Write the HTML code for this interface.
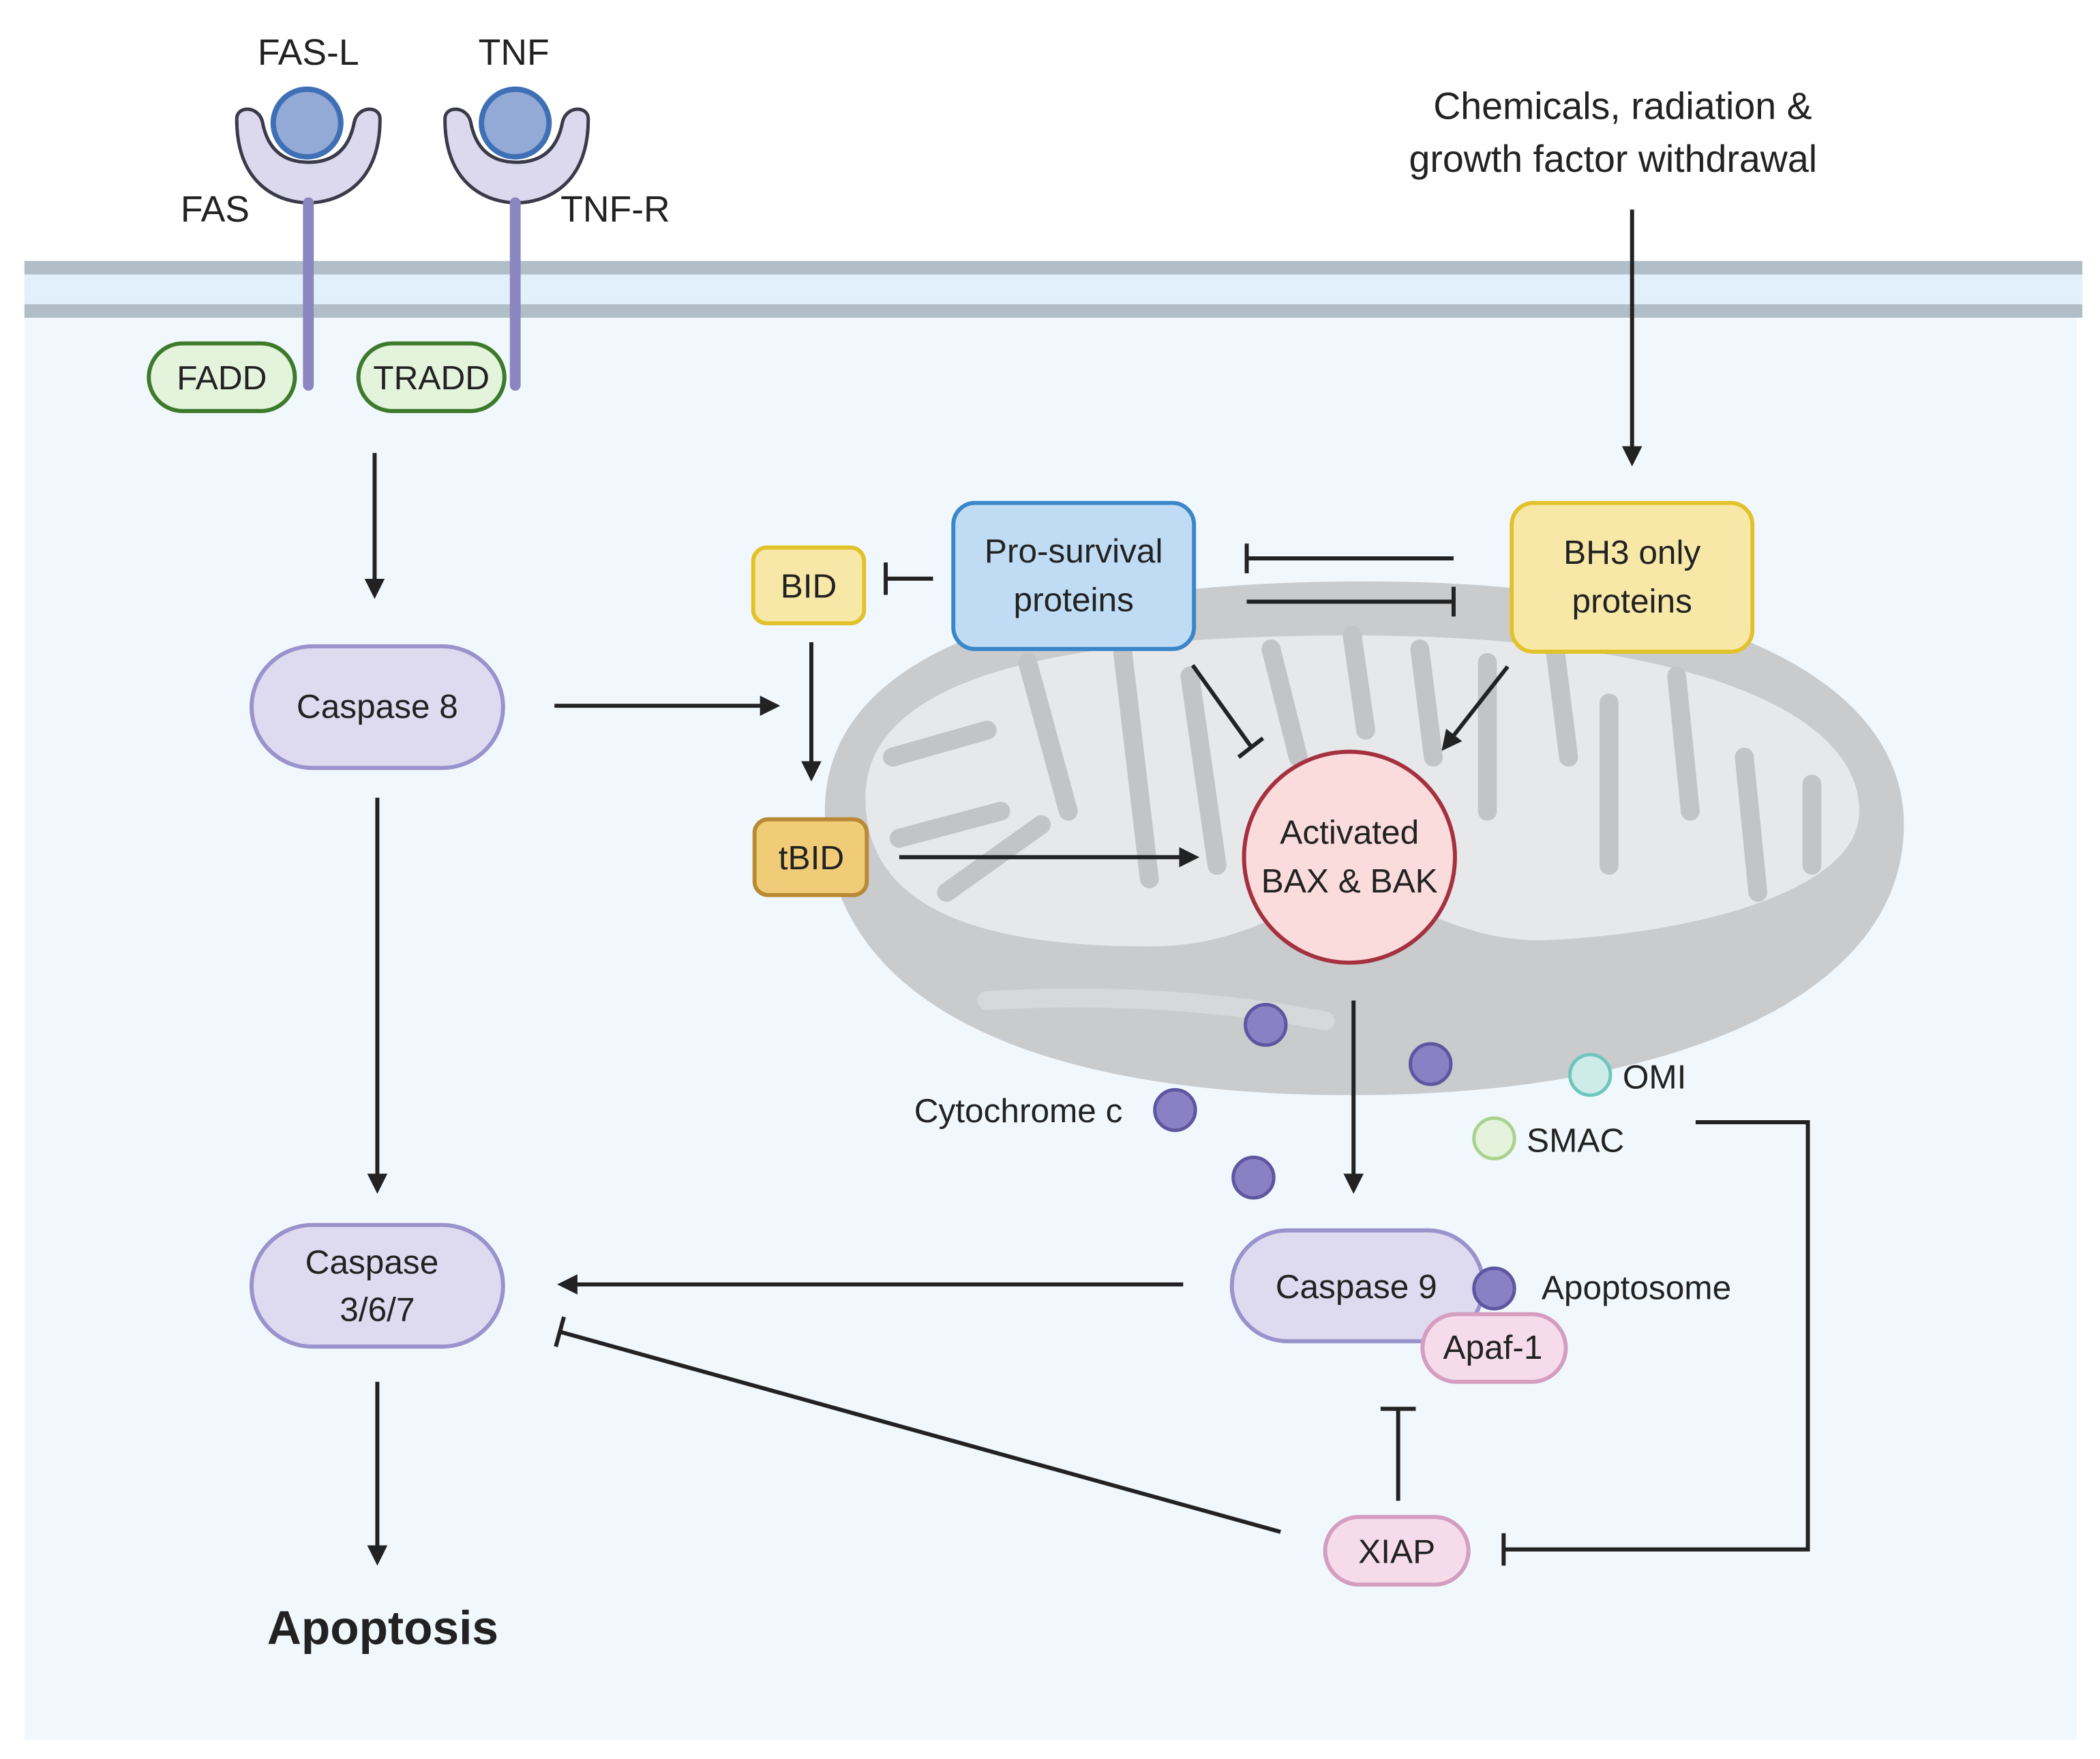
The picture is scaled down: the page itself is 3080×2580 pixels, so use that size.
<!DOCTYPE html>
<html><head><meta charset="utf-8"><style>
html,body{margin:0;padding:0;background:#fff}
svg{display:block}
text{font-family:"Liberation Sans",sans-serif;fill:#222}
</style></head><body>
<svg width="3080" height="2580" viewBox="0 0 1553 1301" xmlns="http://www.w3.org/2000/svg">
<defs>
<marker id="ah" viewBox="0 0 10 10" refX="8" refY="5" markerWidth="5" markerHeight="5" orient="auto"><path d="M0,0 L10,5 L0,10 z" fill="#222"/></marker>
</defs>
<rect width="1553" height="1301" fill="#fff"/>
<rect x="18" y="195" width="1518" height="1092" fill="#f1f8fd"/>
<rect x="18" y="193" width="1522" height="10" fill="#b1bec8"/>
<rect x="18" y="203" width="1522" height="22" fill="#e2f0fc"/>
<rect x="18" y="225" width="1522" height="10" fill="#b1bec8"/>

<!-- mitochondrion -->
<g>
<path d="M610,600 C610,470 800,430 1010,430 C1260,430 1408,500 1408,610 C1408,740 1230,810 1000,810 C760,810 610,740 610,600 Z" fill="#c9cbcd"/>
<path d="M640,590 C640,490 820,470 1000,470 C1230,470 1375,520 1375,600 C1375,660 1250,690 1150,695 C1080,700 1040,660 1000,660 C960,660 930,700 850,700 C720,700 640,670 640,590 Z" fill="#e6e8ea"/>
<g stroke="#c2c4c6" stroke-width="14" stroke-linecap="round" fill="none">
<path d="M660,560 L730,540"/><path d="M665,620 L740,600"/><path d="M700,660 L770,610"/>
<path d="M760,490 L790,600"/><path d="M830,480 L850,650"/><path d="M880,500 L900,640"/>
<path d="M940,480 L960,560"/><path d="M1000,470 L1010,540"/><path d="M1050,480 L1060,560"/>
<path d="M1100,490 L1100,600"/><path d="M1150,480 L1160,560"/><path d="M1190,520 L1190,640"/>
<path d="M1240,500 L1250,600"/><path d="M1290,560 L1300,660"/><path d="M1340,580 L1340,640"/>
</g>
<path d="M730,740 C820,735 900,740 980,755" stroke="#d6d8da" stroke-width="14" stroke-linecap="round" fill="none"/>
</g>

<!-- receptors -->
<g>
<path d="M175,88 C175,140 210,150 228,150 C246,150 281,140 281,88 C281,78 265,78 262,90 C258,112 245,120 228,120 C211,120 198,112 194,90 C191,78 175,78 175,88 Z" fill="#dcd8ed" stroke="#3a3a4a" stroke-width="2.5"/>
<path d="M329,88 C329,140 364,150 382,150 C400,150 435,140 435,88 C435,78 419,78 416,90 C412,112 399,120 382,120 C365,120 352,112 348,90 C345,78 329,78 329,88 Z" fill="#dcd8ed" stroke="#3a3a4a" stroke-width="2.5"/>
<line x1="228" y1="150" x2="228" y2="285" stroke="#8c86c0" stroke-width="8" stroke-linecap="round"/>
<line x1="381" y1="150" x2="381" y2="285" stroke="#8c86c0" stroke-width="8" stroke-linecap="round"/>
<circle cx="227" cy="91" r="25" fill="#93a9d6" stroke="#3f6fb5" stroke-width="4"/>
<circle cx="381" cy="91" r="25" fill="#93a9d6" stroke="#3f6fb5" stroke-width="4"/>
<text x="228" y="48" font-size="27" text-anchor="middle">FAS-L</text>
<text x="380" y="48" font-size="27" text-anchor="middle">TNF</text>
<text x="159" y="164" font-size="27" text-anchor="middle">FAS</text>
<text x="455" y="164" font-size="27" text-anchor="middle">TNF-R</text>
<rect x="110" y="254" width="108" height="50" rx="25" fill="#e3f3dc" stroke="#3d7a2b" stroke-width="3"/>
<text x="164" y="288" font-size="25" text-anchor="middle">FADD</text>
<rect x="265" y="254" width="108" height="50" rx="25" fill="#e3f3dc" stroke="#3d7a2b" stroke-width="3"/>
<text x="319" y="288" font-size="25" text-anchor="middle">TRADD</text>
</g>

<!-- arrows -->
<g stroke="#222" stroke-width="3" fill="none">
<line x1="277" y1="335" x2="277" y2="440" marker-end="url(#ah)"/>
<line x1="410" y1="522" x2="574" y2="522" marker-end="url(#ah)"/>
<line x1="279" y1="590" x2="279" y2="880" marker-end="url(#ah)"/>
<line x1="279" y1="1022" x2="279" y2="1155" marker-end="url(#ah)"/>
<line x1="600" y1="475" x2="600" y2="575" marker-end="url(#ah)"/>
<line x1="665" y1="634" x2="884" y2="634" marker-end="url(#ah)"/>
<line x1="1207" y1="155" x2="1207" y2="342" marker-end="url(#ah)"/>
<line x1="1115" y1="493" x2="1068" y2="553" marker-end="url(#ah)"/>
<line x1="1001" y1="740" x2="1001" y2="880" marker-end="url(#ah)"/>
<line x1="875" y1="950" x2="415" y2="950" marker-end="url(#ah)"/>
<!-- inhibitions -->
<line x1="690" y1="428" x2="655" y2="428"/><line x1="655" y1="416" x2="655" y2="440"/>
<line x1="1075" y1="413" x2="922" y2="413"/><line x1="922" y1="402" x2="922" y2="424"/>
<line x1="922" y1="445" x2="1075" y2="445"/><line x1="1075" y1="434" x2="1075" y2="456"/>
<line x1="882" y1="492" x2="925" y2="552"/><line x1="916" y1="560" x2="934" y2="546"/>
<line x1="1034" y1="1110" x2="1034" y2="1042"/><line x1="1021" y1="1042" x2="1047" y2="1042"/>
<line x1="947" y1="1133" x2="414" y2="985"/><line x1="411" y1="996" x2="417" y2="974"/>
<polyline points="1254,830 1337,830 1337,1146 1112,1146"/><line x1="1112" y1="1134" x2="1112" y2="1158"/>
</g>

<!-- nodes -->
<rect x="186" y="478" width="186" height="90" rx="45" fill="#dedaf0" stroke="#9a92cc" stroke-width="3"/>
<text x="279" y="531" font-size="25" text-anchor="middle">Caspase 8</text>
<rect x="186" y="906" width="186" height="90" rx="45" fill="#dedaf0" stroke="#9a92cc" stroke-width="3"/>
<text x="275" y="942" font-size="25" text-anchor="middle">Caspase</text>
<text x="279" y="977" font-size="25" text-anchor="middle">3/6/7</text>
<text x="283" y="1216" font-size="35" font-weight="bold" text-anchor="middle">Apoptosis</text>

<rect x="557" y="405" width="82" height="56" rx="10" fill="#f8e8a8" stroke="#e2c22a" stroke-width="3"/>
<text x="598" y="442" font-size="25" text-anchor="middle">BID</text>
<rect x="558" y="606" width="83" height="56" rx="10" fill="#f1cc78" stroke="#b98a36" stroke-width="3"/>
<text x="600" y="643" font-size="25" text-anchor="middle">tBID</text>

<rect x="705" y="372" width="178" height="108" rx="16" fill="#bfdcf4" stroke="#3b86c8" stroke-width="3"/>
<text x="794" y="416" font-size="25" text-anchor="middle">Pro-survival</text>
<text x="794" y="452" font-size="25" text-anchor="middle">proteins</text>
<rect x="1118" y="372" width="178" height="110" rx="16" fill="#f8e8a8" stroke="#e2c22a" stroke-width="3"/>
<text x="1207" y="417" font-size="25" text-anchor="middle">BH3 only</text>
<text x="1207" y="453" font-size="25" text-anchor="middle">proteins</text>

<circle cx="998" cy="634" r="78" fill="#fadcdc" stroke="#a53040" stroke-width="3"/>
<text x="998" y="624" font-size="25" text-anchor="middle">Activated</text>
<text x="998" y="660" font-size="25" text-anchor="middle">BAX &amp; BAK</text>

<text x="1060" y="88" font-size="28">Chemicals, radiation &amp;</text>
<text x="1042" y="127" font-size="28">growth factor withdrawal</text>

<g fill="#8a80c4" stroke="#5e56a0" stroke-width="2.5">
<circle cx="936" cy="758" r="15"/><circle cx="1058" cy="787" r="15"/>
<circle cx="869" cy="821" r="15"/><circle cx="927" cy="871" r="15"/>
</g>
<circle cx="1176" cy="795" r="15" fill="#cdebe8" stroke="#6dc6bd" stroke-width="2.5"/>
<circle cx="1105" cy="842" r="15" fill="#e6f3dc" stroke="#a9d38f" stroke-width="2.5"/>
<text x="676" y="830" font-size="25">Cytochrome c</text>
<text x="1200" y="805" font-size="25">OMI</text>
<text x="1129" y="852" font-size="25">SMAC</text>

<rect x="911" y="910" width="186" height="82" rx="41" fill="#dedaf0" stroke="#9a92cc" stroke-width="3"/>
<text x="1003" y="960" font-size="25" text-anchor="middle">Caspase 9</text>
<rect x="1052" y="972" width="106" height="50" rx="25" fill="#f6dcea" stroke="#d39ec0" stroke-width="3"/>
<text x="1104" y="1005" font-size="25" text-anchor="middle">Apaf-1</text>
<circle cx="1105" cy="953" r="15" fill="#8a80c4" stroke="#5e56a0" stroke-width="2.5"/>
<text x="1140" y="961" font-size="25">Apoptosome</text>

<rect x="980" y="1122" width="106" height="50" rx="25" fill="#f6dcea" stroke="#d39ec0" stroke-width="3"/>
<text x="1033" y="1156" font-size="25" text-anchor="middle">XIAP</text>
</svg>
</body></html>
